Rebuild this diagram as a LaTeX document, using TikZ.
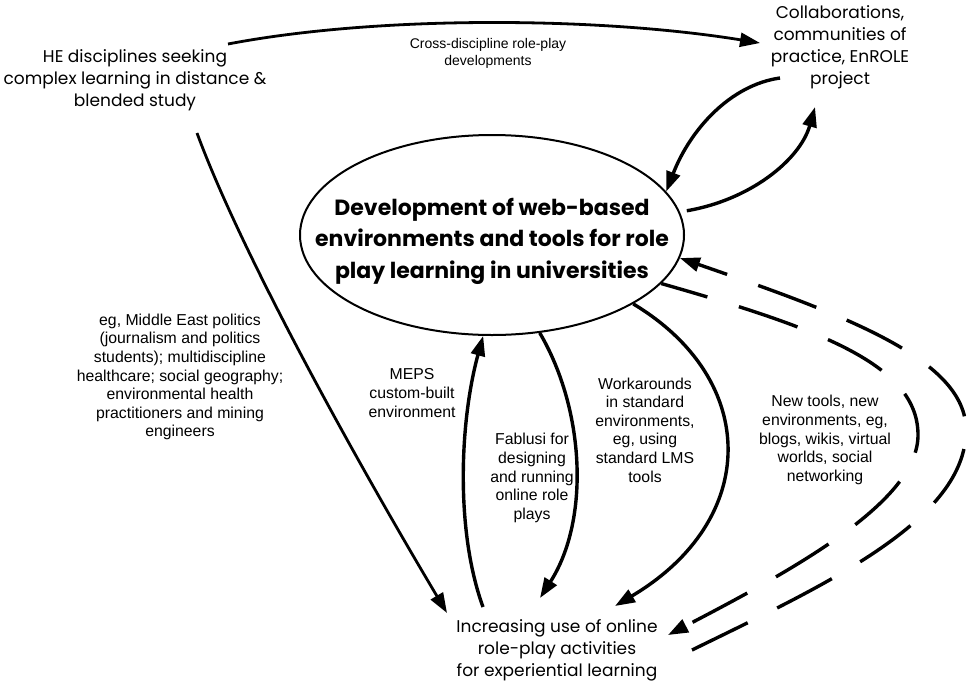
\documentclass[tikz,border=0pt]{standalone}
\usepackage{fontspec}
\setmainfont{Liberation Sans}
\newfontfamily\handfont{Poppins}
\usetikzlibrary{arrows.meta,shapes.geometric}

\begin{document}
\begin{tikzpicture}[x=1pt,y=-1pt,
  hand/.style={font=\handfont\fontsize{17}{22}\selectfont, align=center, inner sep=0pt},
  handbold/.style={font=\handfont\bfseries\fontsize{22}{31.5}\selectfont, align=center, inner sep=0pt},
  lbl/.style={font=\fontsize{15.8}{18.6}\selectfont, align=center, inner sep=0pt},
  toplbl/.style={font=\fontsize{14}{17}\selectfont, align=center, inner sep=0pt},
  tip/.style={-{Triangle[length=20pt,width=14pt]}},
  flow/.style={tip, line width=3.4pt},
  thinflow/.style={tip, line width=2.8pt},
  dashflow/.style={tip, line width=3.4pt, dash pattern=on 62pt off 33pt}]

\useasboundingbox (0,0) rectangle (968,683);

% ---- main ellipse
\node[draw, ellipse, line width=2pt, minimum width=384pt, minimum height=200pt, inner sep=0pt] (dev) at (492,235) {};
\node[handbold] (devtext) at (492,241) {Development of web-based\\environments and tools for role\\play learning in universities};

% ---- text nodes
\node[hand] (he) at (135,80) {HE disciplines seeking\\complex learning in distance \&\\blended study};
\node[hand] (collab) at (840,47) {Collaborations,\\communities of\\practice, EnROLE\\project};
\node[hand] (use) at (557,650) {Increasing use of online\\role-play activities\\for experiential learning};

% ---- labels
\node[toplbl] (lcross) at (488,53) {Cross-discipline role-play\\developments};
\node[lbl] (leg) at (180,377) {eg, Middle East politics\\(journalism and politics\\students); multidiscipline\\healthcare; social geography;\\environmental health\\practitioners and mining\\engineers};
\node[lbl] (lmeps) at (412,393) {MEPS\\custom-built\\environment};
\node[lbl] (lfab) at (532,478) {Fablusi for\\designing\\and running\\online role\\plays};
\node[lbl] (lwork) at (645,430) {Workarounds\\in standard\\environments,\\eg, using\\standard LMS\\tools};
\node[lbl] (lnew) at (825,440) {New tools, new\\environments, eg,\\blogs, wikis, virtual\\worlds, social\\networking};

% ---- connector ends beside the text nodes
\coordinate (heR) at (228,44);
\coordinate (heB) at (197,133);
\coordinate (collabL) at (760,43);
\coordinate (collabB) at (780,78);
\coordinate (collabIn) at (815,107);
\coordinate (useHE) at (447,613);
\coordinate (useMEPS) at (483,607);
\coordinate (useFab) at (540,598);
\coordinate (useWork) at (615,606);
\coordinate (useNewIn) at (668,635);
\coordinate (useNewOut) at (692,650);

% ---- connectors
\draw[thinflow] (heR) .. controls (380,15) and (600,17) .. (collabL);
\draw[flow] (collabB) .. controls (730,85) and (690,130) .. (dev.14);
\draw[flow, shorten <=7pt] (dev.7) .. controls (750,200) and (800,160) .. (collabIn);
\draw[thinflow] (heB) .. controls (240,250) and (350,450) .. (useHE);
\draw[flow] (useMEPS) .. controls (455,530) and (460,420) .. (dev.-95.8);
\draw[flow] (dev.-64.4) .. controls (585,410) and (590,520) .. (useFab);
\draw[flow] (dev.-26.4) .. controls (760,380) and (760,520) .. (useWork);

% ---- dashed pair on the right
\draw[dashflow, dash phase=14pt] (dev.-16.2) .. controls (821,329) and (918,365) .. (918,435)
                 .. controls (918,500) and (801,566) .. (useNewIn);
\draw[dashflow] (useNewOut) .. controls (827,584) and (966,520) .. (966,430)
                 .. controls (966,360) and (848,316) .. (dev.-7);
\end{tikzpicture}
\end{document}
